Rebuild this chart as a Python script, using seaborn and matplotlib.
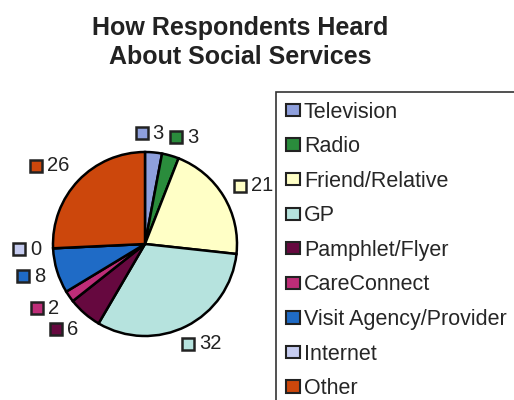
import numpy as np
import matplotlib
matplotlib.use("Agg")
import matplotlib.pyplot as plt
import matplotlib.patches as mpatches
import matplotlib.transforms as mtransforms
import seaborn as sns

# data
sources = ['Television', 'Radio', 'Friend/Relative', 'GP', 'Pamphlet/Flyer',
           'CareConnect', 'Visit Agency/Provider', 'Internet', 'Other']
counts = [3, 3, 21, 32, 6, 2, 8, 0, 26]
hex_colors = ['#8E9FDC', '#2A8C3C', '#FFFFC6', '#B6E3DE', '#66083F',
              '#BE2D78', '#1F6BC6', '#C6CCF0', '#CC470C']

sns.set_theme(style='white')
plt.rcParams['font.family'] = ['Liberation Sans', 'DejaVu Sans']

palette = sns.color_palette(hex_colors)

fig = plt.figure(figsize=(5.14, 4.00), dpi=100)
W, H = 514, 400
# pie centred at (145, 244) px from top-left, radius 92 px
R = 92
cx, cy = 145, H - 244
ax = fig.add_axes([0, 0, 290 / W, 2 * cy / H])

wedges, _ = ax.pie(counts, colors=palette, startangle=90, counterclock=False,
                   radius=1, wedgeprops=dict(edgecolor='black', linewidth=1.8))
ax.set_aspect('auto')
ax.set_xlim(-cx / R, cx / R)
ax.set_ylim(-cy / R, cy / R)
ax.axis('off')

# data labels (Excel style): colour key + value, box placed just outside wedge
lab_size = 14.5
digit_px = 0.556 * lab_size * 100 / 72
sq_px, gap_px, box_h = 12, 5, 14
boxes = []
for w, val in zip(wedges, counts):
    ang = np.deg2rad((w.theta1 + w.theta2) / 2)
    c, s = np.cos(ang), np.sin(ang)
    bw = sq_px + gap_px + digit_px * len(str(val))
    m = max(abs(c), abs(s))
    x = 1.13 * R * c + bw / 2 * c / m
    y = 1.13 * R * s + box_h / 2 * s / m
    boxes.append([x, y, bw])

# spread neighbouring labels that collide
for i in range(len(boxes) - 1):
    a, b = boxes[i], boxes[i + 1]
    if abs(a[1] - b[1]) < box_h:
        need = (a[2] + b[2]) / 2 + 6
        d = abs(b[0] - a[0])
        if d < need:
            shift = (need - d) / 2
            a[0] -= shift
            b[0] += shift

for (x, y, bw), val, col in zip(boxes, counts, palette):
    left = x - bw / 2
    xd, yd = x / R, y / R
    tr = mtransforms.offset_copy(ax.transData, fig=fig, x=left - x + sq_px / 2,
                                 y=0, units='dots')
    ax.plot([xd], [yd], marker='s', markersize=8, markerfacecolor=col,
            markeredgecolor='#222222', markeredgewidth=1.8, transform=tr, clip_on=False)
    ax.annotate(str(val), (xd, yd), xytext=(left - x + sq_px + gap_px, 0),
                textcoords='offset pixels', ha='left', va='center',
                fontsize=lab_size, color='#222222')

handles = [mpatches.Patch(facecolor=c, edgecolor='#222222', linewidth=1.5, label=l)
           for c, l in zip(palette, sources)]
leg = fig.legend(handles=handles, loc='upper left',
                 bbox_to_anchor=(276 / W, 1 - 92 / H), fontsize=15.5,
                 frameon=True, fancybox=False, edgecolor='black',
                 handlelength=0.65, handleheight=0.5, handletextpad=0.2,
                 labelspacing=0.63, borderpad=0.45, borderaxespad=0)
leg.get_frame().set_linewidth(1.2)

fig.text(0.468, 1 - 42.5 / H, 'How Respondents Heard\nAbout Social Services',
         ha='center', va='center', fontsize=18, fontweight='bold',
         color='#222222', linespacing=1.3)

fig.savefig('out.png', dpi=100)
